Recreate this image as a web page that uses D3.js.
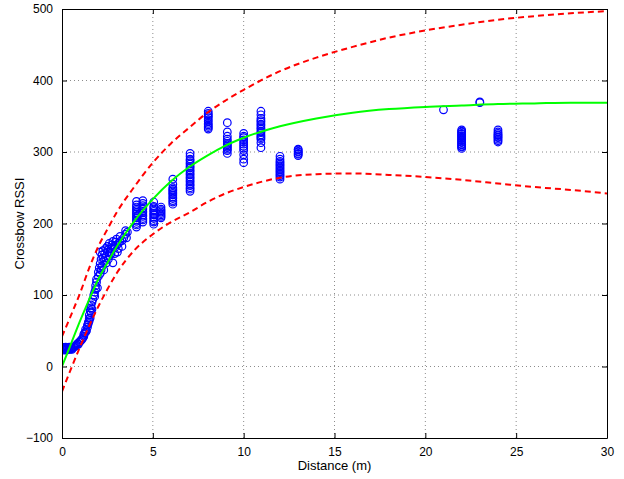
<!DOCTYPE html>
<html>
<head>
<meta charset="utf-8">
<script src="https://d3js.org/d3.v7.min.js"></script>
<style>
  body { margin: 0; background: #fff; }
  svg text { font-family: "Liberation Sans", Arial, sans-serif; fill: #000; }
</style>
</head>
<body>
<svg id="chart" width="624" height="479"></svg>
<script>
  // measured readings: [distance (m), RSSI]
  const readings = [
    [0,24],[0,27],[0.05,25],[0.1,23],[0.1,26],[0.15,24],[0.2,25],[0.2,27],[0.25,23],[0.3,25],
    [0.3,26],[0.35,24],[0.4,25],[0.4,27],[0.45,24],[0.5,25],[0.5,26],[0.55,24],[0.6,26],[0.65,27],[0.7,28],
    [0.75,29],[0.8,30],[0.85,32],[0.9,31],[0.95,34],[1.0,35],[1.05,37],[1.1,38],
    [1.15,40],[1.2,42],[1.2,45],[1.25,47],[1.3,48],[1.3,52],[1.35,50],
    [1.4,55],[1.4,58],[1.45,60],[1.45,62],[1.5,64],[1.5,67],[1.55,68],[1.5,72],
    [1.55,78],[1.6,82],[1.6,86],[1.65,90],[1.7,94],[1.6,75],[1.65,80],
    [1.75,100],[1.8,104],[1.85,108],[1.85,113],[1.9,118],[1.9,122],[1.95,110],[1.8,98],
    [2.0,126],[2.0,132],[2.05,138],[2.1,130],[2.1,144],[2.15,150],[2.2,140],[2.2,156],[2.25,162],
    [2.3,148],[2.3,135],[2.1,160],[2.15,135],[2.25,152],[2.35,158],[2.4,165],
    [2.4,152],[2.5,160],[2.5,168],[2.6,155],[2.6,172],[2.7,165],[2.8,145],[2.8,175],[2.9,158],
    [3.0,170],[3.0,178],[3.1,165],[3.2,175],[2.45,145],[2.55,150],[2.65,160],[2.75,170],[2.9,166],
    [2.55,164],[2.7,158],[2.85,168],[2.95,174],[3.05,160],
    [3.1,172],[3.2,182],[3.3,176],[3.4,180],[3.5,185],[3.5,190],[3.6,188],[3.3,168],[3.55,180],
    [4.1,195],[4.1,198],[4.1,200],[4.1,203],[4.1,205],[4.1,208],[4.1,210],[4.1,213],[4.1,215],
    [4.1,218],[4.1,220],[4.1,223],[4.1,226],[4.1,231],[4.2,212],
    [4.45,202],[4.45,205],[4.45,207],[4.45,210],[4.45,212],[4.45,215],[4.45,217],[4.45,220],
    [4.45,222],[4.45,225],[4.45,228],[4.45,232],
    [5.05,199],[5.05,202],[5.05,204],[5.05,207],[5.05,209],[5.05,212],[5.05,214],[5.05,217],
    [5.05,219],[5.05,222],[5.05,224],[5.05,230],[5.1,212],
    [5.45,208],[5.45,210],[5.45,212],[5.45,214],[5.45,216],[5.45,218],[5.45,220],[5.45,223],
    [6.1,227],[6.1,230],[6.1,232],[6.1,235],[6.1,237],[6.1,240],[6.1,242],[6.1,244],[6.1,246],
    [6.1,248],[6.1,250],[6.1,255],[6.1,262],
    [7.05,245],[7.05,248],[7.05,250],[7.05,253],[7.05,255],[7.05,258],[7.05,260],[7.05,263],
    [7.05,265],[7.05,268],[7.05,270],[7.05,273],[7.05,275],[7.05,278],[7.05,280],[7.05,283],
    [7.05,285],[7.05,288],[7.05,290],[7.05,294],[7.05,298],
    [8.05,332],[8.05,334],[8.05,336],[8.05,338],[8.05,340],[8.05,343],[8.05,345],[8.05,348],
    [8.05,350],[8.05,352],[8.05,354],[8.05,357],
    [9.1,341],[9.1,328],[9.1,322],[9.1,318],[9.1,315],[9.1,312],[9.1,310],[9.1,308],[9.1,306],
    [9.1,304],[9.1,302],[9.1,298],
    [10,326],[10,322],[10,320],[10,317],[10,314],[10,311],[10,308],[10,305],[10,302],[10,296],
    [10,290],[10,285],
    [10.95,357],[10.95,352],[10.95,347],[10.95,344],[10.95,342],[10.95,339],[10.95,337],
    [10.95,334],[10.95,332],[10.95,329],[10.95,327],[10.95,324],[10.95,322],[10.95,320],
    [10.95,318],[10.95,313],[10.95,306],
    [12,294],[12,290],[12,287],[12,285],[12,283],[12,281],[12,279],[12,277],[12,275],[12,273],
    [12,271],[12,269],[12,267],[12,265],[12,262],
    [13,295],[13,297],[13,298],[13,300],[13,301],[13,303],[13,304],
    [21,359],[23,369],[23,370],
    [22,305],[22,307],[22,308],[22,310],[22,311],[22,313],[22,314],[22,316],[22,317],[22,319],
    [22,320],[22,322],[22,323],[22,325],[22,326],[22,328],[22,329],[22,331],
    [24,314],[24,316],[24,318],[24,320],[24,321],[24,323],[24,324],[24,326],[24,328],[24,331]
  ]

  // fitted curve and bounds
  const curveDist = [0,0.5,1,1.5,2,2.5,3,4,5,6,7,8,9,10,12,14,16,18,20,22,24,26,28,30]
  const fitRssi   = [0,32,64,94,122,145,167,204,234,259,279,295,309,320,336,347,355,360,363,365,367,368,369,369]
  const upperRssi = [42,72,103,138,168,192,215,252,285,312,334,355,372,387,413,432,447,460,470,478,485,490,494,497]
  const lowerRssi = [-35,-3,28,57,84,108,130,163,185,202,215,230,242,251,264,269,270,268,265,261,256,251,247,242]

  const xTicks = [0,5,10,15,20,25,30]
  const yTicks = [-100,0,100,200,300,400,500]

  const svg = d3.select("#chart")
  const margin = {top: 9, right: 17, bottom: 41, left: 62}
  const width = 624 - margin.left - margin.right
  const height = 479 - margin.top - margin.bottom

  const x = d3.scaleLinear().domain([0, 30]).range([0, width])
  const y = d3.scaleLinear().domain([-100, 500]).range([height, 0])

  const g = svg.append("g").attr("transform", "translate(" + margin.left + "," + margin.top + ")")

  svg.append("defs").append("clipPath").attr("id", "clip")
    .append("rect").attr("width", width).attr("height", height)

  // grid
  g.append("g").selectAll("line").data(xTicks.slice(1, -1)).enter().append("line")
    .attr("x1", d => x(d)).attr("x2", d => x(d)).attr("y1", 0).attr("y2", height)
    .attr("stroke", "#8c8c8c").attr("stroke-dasharray", "1,3")
  g.append("g").selectAll("line").data(yTicks.slice(1, -1)).enter().append("line")
    .attr("y1", d => y(d)).attr("y2", d => y(d)).attr("x1", 0).attr("x2", width)
    .attr("stroke", "#8c8c8c").attr("stroke-dasharray", "1,3")

  const plot = g.append("g").attr("clip-path", "url(#clip)")

  // readings
  plot.selectAll("circle").data(readings).enter().append("circle")
    .attr("cx", d => x(d[0])).attr("cy", d => y(d[1])).attr("r", 3.8)
    .attr("fill", "none").attr("stroke", "#0000ff").attr("stroke-width", 1.2)

  const line = d3.line().x(d => x(d[0])).y(d => y(d[1])).curve(d3.curveMonotoneX)
  const pairs = vals => curveDist.map((d, i) => [d, vals[i]])

  plot.append("path").datum(pairs(fitRssi)).attr("d", line)
    .attr("fill", "none").attr("stroke", "#00ff00").attr("stroke-width", 2)
  ;[upperRssi, lowerRssi].forEach(vals => {
    plot.append("path").datum(pairs(vals)).attr("d", line)
      .attr("fill", "none").attr("stroke", "#ff0000").attr("stroke-width", 2)
      .attr("stroke-dasharray", "6,4")
  })

  // axes with inward ticks on all sides
  g.append("g").attr("transform", "translate(0," + height + ")")
    .call(d3.axisBottom(x).tickValues(xTicks).tickSizeInner(-5).tickSizeOuter(0).tickPadding(9))
  g.append("g")
    .call(d3.axisTop(x).tickValues(xTicks).tickSizeInner(-5).tickSizeOuter(0).tickFormat(""))
  g.append("g")
    .call(d3.axisLeft(y).tickValues(yTicks).tickSizeInner(-5).tickSizeOuter(0).tickPadding(9))
  g.append("g").attr("transform", "translate(" + width + ",0)")
    .call(d3.axisRight(y).tickValues(yTicks).tickSizeInner(-5).tickSizeOuter(0).tickFormat(""))

  g.selectAll(".domain").attr("stroke", "#000")
  g.selectAll(".tick line").attr("stroke", "#000")
  g.selectAll(".tick text").style("font-size", "12px").attr("fill", "#000")

  svg.append("text")
    .attr("x", margin.left + width / 2).attr("y", 470)
    .style("text-anchor", "middle").style("font-size", "13px")
    .text("Distance (m)")
  svg.append("text")
    .attr("transform", "translate(24," + (margin.top + height / 2) + ") rotate(-90)")
    .style("text-anchor", "middle").style("font-size", "13px")
    .text("Crossbow RSSI")
</script>
</body>
</html>
